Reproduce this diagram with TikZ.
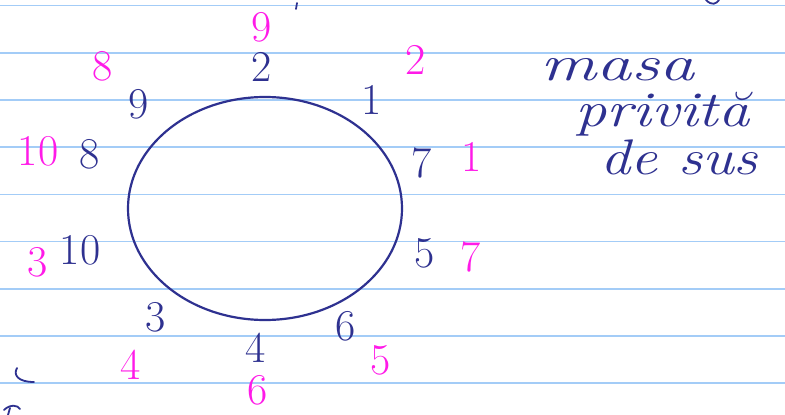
\documentclass[tikz,border=0pt]{standalone}
\usepackage{fontspec}
\usepackage{graphicx}
\usetikzlibrary{shapes.geometric}
\definecolor{ink}{HTML}{2E3190}
\definecolor{mag}{HTML}{FF1AE8}
\definecolor{rule}{HTML}{A3CCF7}
\tikzset{
  num/.style={font=\fontsize{44}{44}\selectfont, inner sep=0pt},
  blue num/.style={num, text=ink},
  pink num/.style={num, text=mag},
  note/.style={font=\fontsize{50}{50}\selectfont\itshape, text=ink, inner sep=0pt},
  ruling/.style={draw=rule, line width=1.6pt},
  stroke/.style={draw=ink, line width=1.8pt, line cap=round}
}
\begin{document}
\begin{tikzpicture}[x=1pt,y=-1pt]
\useasboundingbox[fill=white] (0,0) rectangle (785,415);
% ruled lines
\foreach \yy in {5.5,52.7,99.9,147.1,194.3,241.5,288.7,335.9,383.1}
  \draw[ruling] (0,\yy) -- (785,\yy);
% table
\node[draw=ink, line width=2.2pt, ellipse, minimum width=274pt, minimum height=223pt, inner sep=0pt] (table) at (265,208.5) {};
% blue numbers (inner ring)
\node[blue num] (b2)  at (262,67)  {2};
\node[blue num] (b1)  at (372,100) {1};
\node[blue num] (b9)  at (139,104) {9};
\node[blue num] (b8)  at (90,154)  {8};
\node[blue num] (b7)  at (422,163) {7};
\node[blue num] (b10) at (80,250)  {10};
\node[blue num] (b5)  at (425,253) {5};
\node[blue num] (b3)  at (156,317) {3};
\node[blue num] (b4)  at (256,348) {4};
\node[blue num] (b6)  at (346,326) {6};
% pink numbers (outer ring)
\node[pink num] (p9)  at (262,27)  {9};
\node[pink num] (p2)  at (416,60)  {2};
\node[pink num] (p8)  at (103,66)  {8};
\node[pink num] (p10) at (38,151)  {10};
\node[pink num] (p1)  at (472,157) {1};
\node[pink num] (p3)  at (38,262)  {3};
\node[pink num] (p7)  at (471,257) {7};
\node[pink num] (p4)  at (131,365) {4};
\node[pink num] (p5)  at (381,360) {5};
\node[pink num] (p6)  at (258,390) {6};
% note
\node[note, anchor=base west] (n1) at (540,80)  {\scalebox{1.4}[1]{masa}};
\node[note, anchor=base west] (n2) at (575,126) {\scalebox{1.25}[1]{privită}};
\node[note, anchor=base west] (n3) at (600,174) {\scalebox{1.2}[1]{de sus}};
% cut-off strokes at the edges
\draw[stroke] (297,3) -- (296,9);
\draw[stroke] (706,0) .. controls (712,6) and (716,4) .. (719,0);
\draw[stroke] (17,368) .. controls (13,375) and (18,382) .. (34,382);
\draw[stroke] (4,410) .. controls (10,404) and (18,405) .. (20,409);
\draw[stroke] (10,408) -- (8,415);
\end{tikzpicture}
\end{document}
